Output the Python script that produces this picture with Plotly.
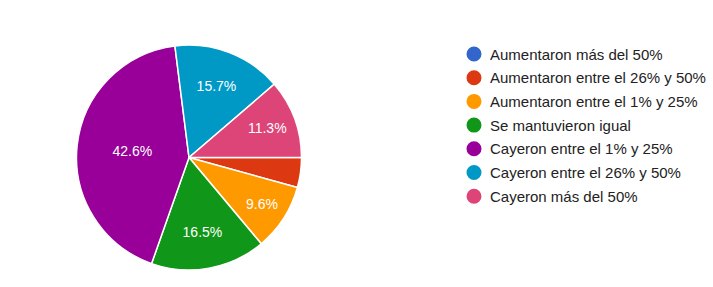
import plotly.graph_objects as go

categories = [
    "Aumentaron más del 50%",
    "Aumentaron entre el 26% y 50%",
    "Aumentaron entre el 1% y 25%",
    "Se mantuvieron igual",
    "Cayeron entre el 1% y 25%",
    "Cayeron entre el 26% y 50%",
    "Cayeron más del 50%",
]
values = [0.0, 4.3, 9.6, 16.5, 42.6, 15.7, 11.3]
colors = ["#3366cc", "#dc3912", "#ff9900", "#109618", "#990099", "#0099c6", "#dd4477"]

W, H = 713, 287
cx, cy, r = 189, 157.5, 112.5

texttemplates = ["%{percent:.1%}" if v >= 5 else "" for v in values]

fig = go.Figure()
fig.add_trace(go.Pie(
    labels=categories,
    values=values,
    marker=dict(colors=colors, line=dict(color="white", width=1.5)),
    sort=False,
    direction="clockwise",
    rotation=90,
    texttemplate=texttemplates,
    textposition="inside",
    insidetextorientation="horizontal",
    textfont=dict(family="Liberation Sans, Arial", size=14, color="white"),
    showlegend=False,
    hoverinfo="label+percent",
    domain=dict(x=[(cx - r) / W, (cx + r) / W], y=[(H - cy - r) / H, (H - cy + r) / H]),
))

# Legend built as layout decorations (circle + label per category)
leg_x, leg_y0, leg_dy, rad = 474, 54, 23.7, 7.5
shapes, annotations = [], []
for i, (name, col) in enumerate(zip(categories, colors)):
    yc = leg_y0 + i * leg_dy
    shapes.append(dict(
        type="circle", xref="paper", yref="paper",
        x0=(leg_x - rad) / W, x1=(leg_x + rad) / W,
        y0=1 - (yc + rad) / H, y1=1 - (yc - rad) / H,
        fillcolor=col, line=dict(width=0),
    ))
    annotations.append(dict(
        text=name, xref="paper", yref="paper",
        x=488 / W, y=1 - yc / H, xanchor="left", yanchor="middle",
        showarrow=False,
        font=dict(family="Liberation Sans, Arial", size=15, color="#222222"),
    ))

fig.update_layout(
    width=W, height=H,
    margin=dict(l=0, r=0, t=0, b=0),
    paper_bgcolor="white", plot_bgcolor="white",
    showlegend=False,
    shapes=shapes,
    annotations=annotations,
)

fig.write_html("out.html")
